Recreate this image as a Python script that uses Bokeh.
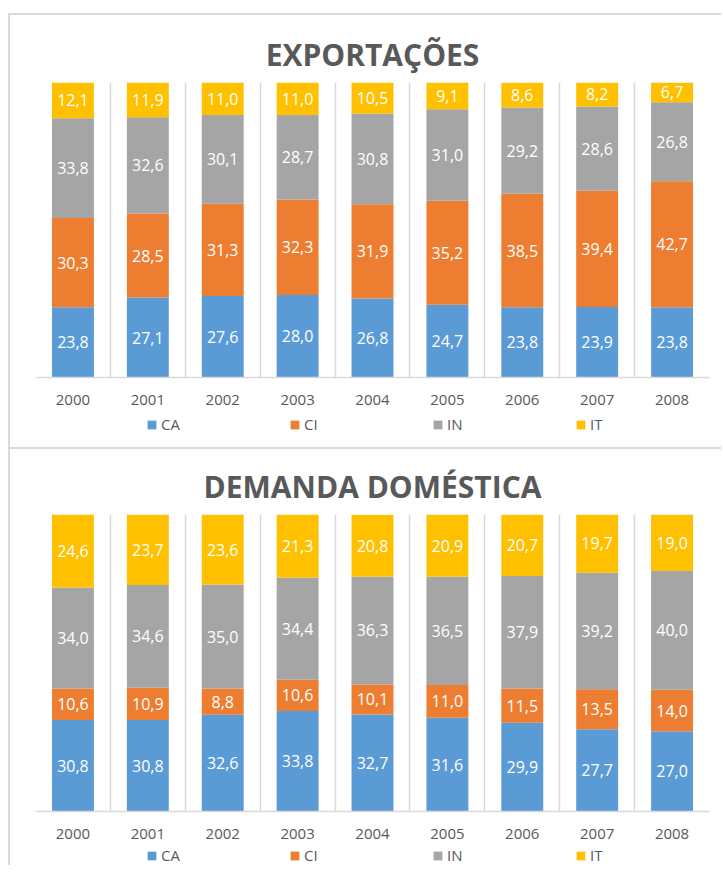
from bokeh.plotting import figure
from bokeh.models import ColumnDataSource, FixedTicker, Legend, LegendItem, Range1d
from bokeh.layouts import column
from bokeh.core.properties import value
from bokeh.embed import file_html
from bokeh.resources import INLINE

years = ["2000", "2001", "2002", "2003", "2004", "2005", "2006", "2007", "2008"]
series = ["CA", "CI", "IN", "IT"]
colors = ["#5B9BD5", "#ED7D31", "#A5A5A5", "#FFC000"]

exp_ca = [23.8, 27.1, 27.6, 28.0, 26.8, 24.7, 23.8, 23.9, 23.8]
exp_ci = [30.3, 28.5, 31.3, 32.3, 31.9, 35.2, 38.5, 39.4, 42.7]
exp_in = [33.8, 32.6, 30.1, 28.7, 30.8, 31.0, 29.2, 28.6, 26.8]
exp_it = [12.1, 11.9, 11.0, 11.0, 10.5, 9.1, 8.6, 8.2, 6.7]

dom_ca = [30.8, 30.8, 32.6, 33.8, 32.7, 31.6, 29.9, 27.7, 27.0]
dom_ci = [10.6, 10.9, 8.8, 10.6, 10.1, 11.0, 11.5, 13.5, 14.0]
dom_in = [34.0, 34.6, 35.0, 34.4, 36.3, 36.5, 37.9, 39.2, 40.0]
dom_it = [24.6, 23.7, 23.6, 21.3, 20.8, 20.9, 20.7, 19.7, 19.0]

FONT = "Open Sans"
GRAY = "#595959"
LINE = "#D9D9D9"
BORDER = "2px solid #D9D9D9"


def fmt(v):
    return f"{v:.1f}".replace(".", ",")


def make_chart(title, data, height, top, bottom, standoff):
    n = len(years)
    src = {"x": list(range(n))}
    for s, vals in zip(series, data):
        src[s] = vals
    source = ColumnDataSource(src)

    p = figure(width=713, height=height,
               x_range=Range1d(-0.5, n - 0.5), y_range=Range1d(0, 100),
               output_backend="svg", toolbar_location=None,
               min_border_left=25, min_border_right=14,
               min_border_top=top, min_border_bottom=bottom,
               styles={"border-top": BORDER, "border-left": BORDER})
    p.outline_line_color = None
    p.background_fill_color = "white"
    p.border_fill_color = "white"

    p.vbar_stack(series, x="x", width=0.56, fill_color=colors,
                 line_color=None, source=source)

    lx, ly, lt = [], [], []
    for i in range(n):
        base = 0.0
        for vals in data:
            v = vals[i]
            lx.append(i)
            ly.append(base + v / 2)
            lt.append(fmt(v))
            base += v
    p.text(x=lx, y=ly, text=lt, text_align="center", text_baseline="middle",
           text_color="white", text_font=value(FONT), text_font_size="16px")

    p.yaxis.visible = False
    p.ygrid.visible = False
    p.xgrid.ticker = FixedTicker(ticks=[i - 0.5 for i in range(n + 1)])
    p.xgrid.grid_line_color = LINE
    p.xgrid.grid_line_width = 1.5

    ax = p.xaxis[0]
    ax.ticker = FixedTicker(ticks=list(range(n)))
    ax.major_label_overrides = {i: y for i, y in enumerate(years)}
    ax.axis_line_color = LINE
    ax.axis_line_width = 1.5
    ax.major_tick_line_color = None
    ax.minor_tick_line_color = None
    ax.major_label_standoff = 11
    ax.major_label_text_font = FONT
    ax.major_label_text_font_size = "15px"
    ax.major_label_text_color = GRAY

    p.title.text = title
    p.title.align = "center"
    p.title.text_font = FONT
    p.title.text_font_size = "30px"
    p.title.text_font_style = "bold"
    p.title.text_color = GRAY
    p.title.standoff = standoff
    return p


def make_legend(height, loc_x, loc_y):
    q = figure(width=713, height=height, x_range=Range1d(0, 1), y_range=Range1d(0, 1),
               output_backend="svg", toolbar_location=None,
               x_axis_location=None, y_axis_location=None, min_border=0,
               styles={"border-left": BORDER})
    q.outline_line_color = None
    q.xgrid.visible = False
    q.ygrid.visible = False
    # legend-only renderers, kept outside the visible range
    rs = [q.vbar(x=[5], top=[5], bottom=[4], width=0.5, fill_color=c, line_color=None)
          for c in colors]
    legend = Legend(items=[LegendItem(label=s, renderers=[r]) for s, r in zip(series, rs)],
                    orientation="horizontal", location=(loc_x, loc_y),
                    glyph_width=11, glyph_height=11, label_standoff=4,
                    label_width=118, spacing=10, padding=0, margin=0,
                    border_line_color=None, background_fill_alpha=0,
                    label_text_font=FONT, label_text_font_size="15px",
                    label_text_color=GRAY, label_height=12)
    q.add_layout(legend, "center")
    return q


c1 = make_chart("EXPORTAÇÕES", [exp_ca, exp_ci, exp_in, exp_it], 396, 67, 34, 15)
l1 = make_legend(38, 111, 13)
c2 = make_chart("DEMANDA DOMÉSTICA", [dom_ca, dom_ci, dom_in, dom_it], 396, 65, 34, 15)
l2 = make_legend(22, 111, 0)

layout = column(c1, l1, c2, l2, margin=(13, 0, 0, 8))
open("out.html", "w").write(file_html(layout, INLINE))
